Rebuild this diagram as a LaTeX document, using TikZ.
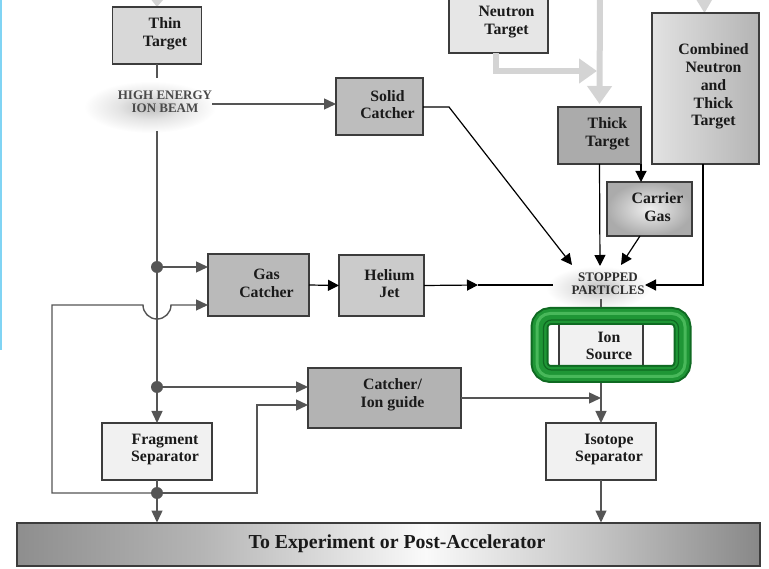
\documentclass[tikz,border=0pt]{standalone}
\usepackage{fontspec}
\setmainfont{Liberation Serif}
\usetikzlibrary{arrows.meta}
\definecolor{boxline}{HTML}{3C3C3C}
\definecolor{wirec}{HTML}{555555}
\definecolor{txt}{HTML}{1A1A1A}
\definecolor{ghostc}{HTML}{D4D4D4}
\definecolor{bluel}{HTML}{80D4F4}
\definecolor{gdark}{HTML}{0F6A22}
\definecolor{gmid}{HTML}{1F9636}
\definecolor{glight}{HTML}{48B85A}
\definecolor{thinc}{HTML}{D8D8D8}
\definecolor{solidc}{HTML}{BDBDBD}
\definecolor{neutronc}{HTML}{E6E6E6}
\definecolor{thickc}{HTML}{ABABAB}
\definecolor{combL}{HTML}{E2E2E2}
\definecolor{combR}{HTML}{B4B4B4}
\definecolor{gasc}{HTML}{BABABA}
\definecolor{heliumc}{HTML}{CBCBCB}
\definecolor{catchc}{HTML}{B3B3B3}
\definecolor{fragc}{HTML}{F1F1F1}
\definecolor{beamc}{HTML}{4A4A4A}
\definecolor{stopc}{HTML}{2E2E2E}
\definecolor{barA}{HTML}{8E8E8E}
\definecolor{barB}{HTML}{B5B5B5}
\definecolor{barC}{HTML}{FAFAFA}
\definecolor{barD}{HTML}{C4C4C4}
\definecolor{barE}{HTML}{888888}
\definecolor{glowA}{HTML}{BDBDBD}
\definecolor{glowB}{HTML}{E4E4E4}
\definecolor{cgA}{HTML}{F0F0F0}
\definecolor{cgB}{HTML}{ABABAB}
\pgfdeclarehorizontalshading{barshade}{100bp}{color(0bp)=(barA); color(25bp)=(barA); color(37.5bp)=(barB); color(52.5bp)=(barC); color(64bp)=(barD); color(75bp)=(barE); color(100bp)=(barE)}
\pgfdeclareradialshading{glowshade}{\pgfpoint{0bp}{0bp}}{color(0bp)=(glowA); color(12bp)=(glowB); color(25bp)=(white); color(50bp)=(white)}
\pgfdeclareradialshading{gasshade}{\pgfpoint{0bp}{0bp}}{color(0bp)=(cgA); color(25bp)=(cgB); color(50bp)=(cgB)}
\begin{document}
\begin{tikzpicture}[x=1pt,y=-1pt,
  blk/.style={draw=boxline,line width=1.4pt,inner sep=0pt,outer sep=0pt},
  btext/.style={inner sep=0pt,align=center,text=txt,font=\fontsize{15.8}{17.8}\selectfont\bfseries},
  captext/.style={inner sep=0pt,align=center,font=\fontsize{13}{12.5}\selectfont\bfseries},
  wire/.style={draw=wirec,line width=1.4pt},
  arr/.style={wire,-{Triangle[length=12pt,width=11pt]}},
  barr/.style={draw=black,line width=1.2pt,-{Triangle[length=11pt,width=11pt]}},
  ghost/.style={draw=ghostc,line width=6pt},
  gtip/.style={ghost,-{Triangle[length=18pt,width=24pt]}},
  dotn/.style={circle,fill=wirec,minimum size=12pt,inner sep=0pt,outer sep=0pt}]
\useasboundingbox (0,0) rectangle (769,569);
\clip (0,0) rectangle (769,569);
% glows
\shade[shading=glowshade] (150,107) ellipse [x radius=66pt, y radius=26pt];
\shade[shading=glowshade] (598,288) ellipse [x radius=52pt, y radius=22pt];
% blue edge
\fill[bluel] (0,0) rectangle (1.6,350);
% incoming ghost tips
\fill[ghostc] (151.5,0) -- (163,0) -- (157,7) -- cycle;
\fill[ghostc] (696.5,0) -- (712,0) -- (704.5,13) -- cycle;
% boxes
\node[blk,fill=thinc,minimum width=89pt,minimum height=57pt] (thin) at (157,35.5) {};
\node[btext] (thinT) at ([xshift=8pt,yshift=2pt]thin.center) {Thin\\Target};
\node[blk,fill=solidc,minimum width=87pt,minimum height=57pt] (solid) at (379.5,106.5) {};
\node[btext] (solidT) at ([xshift=8pt,yshift=2pt]solid.center) {Solid\\Catcher};
\node[blk,fill=neutronc,minimum width=99pt,minimum height=58pt] (neutron) at (498.5,24) {};
\node[btext] (neutronT) at ([xshift=8pt,yshift=2pt]neutron.center) {Neutron\\Target};
\node[blk,fill=thickc,minimum width=83pt,minimum height=57pt] (thick) at (599.5,135.5) {};
\node[btext] (thickT) at ([xshift=8pt,yshift=2pt]thick.center) {Thick\\Target};
\node[blk,left color=combL,right color=combR,minimum width=107pt,minimum height=151pt] (comb) at (705.5,88.5) {};
\node[btext] (combT) at ([xshift=8pt,yshift=2pt]comb.center) {Combined\\Neutron\\and\\Thick\\Target};
\node[blk,shade,shading=gasshade,minimum width=85pt,minimum height=54pt] (carrier) at (649.5,209) {};
\node[btext] (carrierT) at ([xshift=8pt,yshift=2pt]carrier.center) {Carrier\\Gas};
\node[blk,fill=gasc,minimum width=101pt,minimum height=62pt] (gas) at (258.5,285) {};
\node[btext] (gasT) at ([xshift=8pt,yshift=2pt]gas.center) {Gas\\Catcher};
\node[blk,fill=heliumc,minimum width=85pt,minimum height=61pt] (helium) at (381.5,285.5) {};
\node[btext] (heliumT) at ([xshift=8pt,yshift=2pt]helium.center) {Helium\\Jet};
\node[blk,fill=catchc,minimum width=153pt,minimum height=60pt] (catcher) at (384.5,398) {};
\node[btext] (catcherT) at ([xshift=8pt,yshift=3pt]catcher.center) {Catcher/\\Ion guide};
\node[blk,fill=fragc,minimum width=110pt,minimum height=57pt] (frag) at (157,451.5) {};
\node[btext] (fragT) at ([xshift=8pt,yshift=2pt]frag.center) {Fragment\\Separator};
\node[blk,fill=fragc,minimum width=110pt,minimum height=57pt] (iso) at (601,451.5) {};
\node[btext] (isoT) at ([xshift=8pt,yshift=2pt]iso.center) {Isotope\\Separator};
% ion source
\fill[white] (548,325) rectangle (672,365);
\node[blk,fill=fragc,minimum width=84pt,minimum height=48pt] (ion) at (601,345) {};
\node[btext] (ionT) at ([xshift=8pt,yshift=-1pt]ion.center) {Ion\\Source};
\draw[gdark,line width=18pt,rounded corners=11pt] (539.5,316) rectangle (682.5,374);
\draw[gmid,line width=14pt,rounded corners=11pt] (539.5,316) rectangle (682.5,374);
\draw[glight,line width=3pt,rounded corners=13pt] (537,313.5) rectangle (685,376.5);
\draw[gdark,line width=1.2pt,rounded corners=8pt] (543.5,320) rectangle (678.5,370);
% bottom bar
\node[blk,line width=2pt,shade,shading=barshade,minimum width=743pt,minimum height=43pt] (bar) at (388.5,544) {};
\node[btext,font=\fontsize{19.8}{22}\selectfont\bfseries] (barT) at ([xshift=8.5pt,yshift=0pt]bar.center) {To Experiment or Post-Accelerator};
% labels
\node[captext,text=beamc] (beam) at (165,102) {HIGH ENERGY\\ION BEAM};
\node[captext,text=stopc] (stop) at (608,284) {STOPPED\\PARTICLES};
% dots
\node[dotn] (d1) at (157,267) {};
\node[dotn] (d2) at (157,387) {};
\node[dotn] (d3) at (157,493) {};
% coordinates
\coordinate (b1) at (157,78);
\coordinate (b2) at (157,131);
\coordinate (h0) at (52,305);
\coordinate (h1) at (143,305);
\coordinate (k0) at (257,405);
\coordinate (beamR) at (212,104);
\coordinate (sc1) at (449,107);
\coordinate (s1) at (572,265);
\coordinate (s2) at (600,266);
\coordinate (s3) at (621,265);
\coordinate (s4) at (645,285);
\coordinate (cb) at (703,285);
\coordinate (hm) at (478,285);
\coordinate (he) at (553,285);
\coordinate (st) at (601,299);
\coordinate (rn) at (601,307);
\coordinate (rs) at (601,383);
\coordinate (nb) at (496,71);
\coordinate (nt) at (597,71);
\coordinate (vt) at (600,-5);
% ghost arrows
\draw[gtip] ([xshift=-2.5pt]neutron.south) -- (nb) -- (nt);
\draw[gtip] (vt) -- ([yshift=3pt]thick.north);
% beam connectors
\draw[wire] (thin.south) -- (b1);
\draw[wire] (b2) -- (d1);
\draw[wire] (d1) -- (d2);
\draw[arr] (d2) -- (frag.north);
\draw[wire] (frag.south) -- (d3);
\draw[arr] (d3) -- (d3 |- bar.north);
\draw[arr] (d1) -- (gas.west |- d1);
\draw[arr] (d2) -- (catcher.west |- d2);
\draw[arr] (d3) -- (d3 -| h0) -- (h0) -- (h1) arc[start angle=180,end angle=360,radius=14pt] -- (gas.west |- h0);
\draw[arr] (d3) -- (d3 -| k0) -- (k0) -- (catcher.west |- k0);
\draw[arr] (beamR) -- (solid.west |- beamR);
% stopped particles feeders
\draw[barr] (solid.east |- sc1) -- (sc1) -- (s1);
\draw[barr] (thick.south) -- (s2);
\draw[barr] (thick.south east) -- (thick.south east |- carrier.north);
\draw[barr] ([xshift=-9.5pt]carrier.south) -- (s3);
\draw[barr] ([xshift=-2.5pt]comb.south) -- (cb) -- (s4);
\draw[barr] (gas.east) -- (helium.west);
\draw[barr] (helium.east) -- (hm);
\draw[black,line width=1.2pt] (hm) -- (he);
% ion source chain
\draw[wire] (st) -- (rn);
\draw[arr] (rs) -- (iso.north);
\draw[arr] (catcher.east) -- (catcher.east -| rs);
\draw[arr] (iso.south) -- (iso.south |- bar.north);
\end{tikzpicture}
\end{document}
